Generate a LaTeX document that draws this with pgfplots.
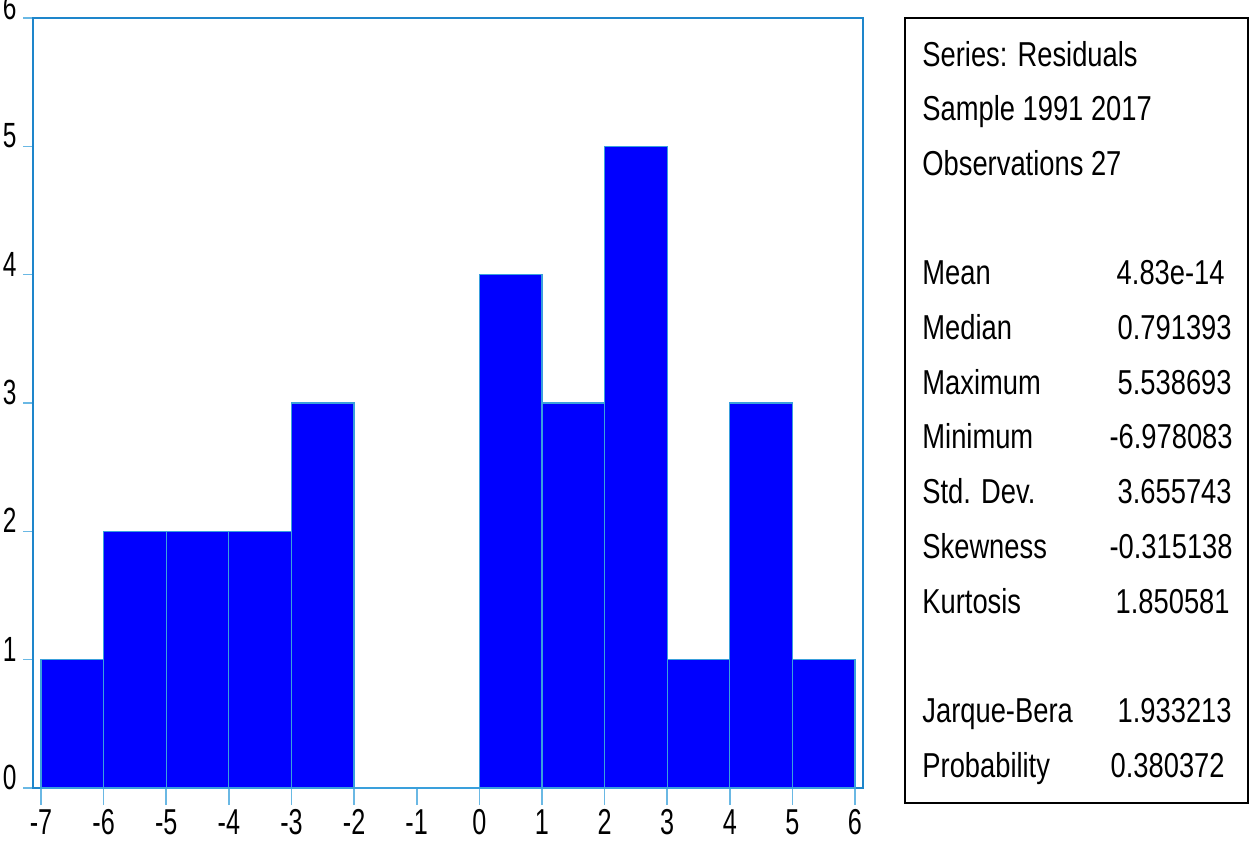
\documentclass[border=0pt]{standalone}
\usepackage{pgfplots}
\pgfplotsset{compat=1.18}
\usepackage{fontspec}
\setmainfont[FakeStretch=0.79]{Liberation Sans}
\newfontfamily\tickfont[FakeStretch=0.70]{Liberation Sans}
\definecolor{axblue}{HTML}{1E86CB}
\definecolor{tickblue}{HTML}{6AB8E4}
\definecolor{edgeblue}{HTML}{3AA0DC}
\definecolor{barblue}{HTML}{0000FF}
\begin{document}
\fontsize{17.3}{19}\selectfont
\begin{tikzpicture}[x=0.5pt,y=-0.5pt]
\useasboundingbox (0,0) rectangle (1251,846);
\begin{axis}[
  at={(16.5pt,-394pt)}, anchor=south west,
  scale only axis, width=415pt, height=385pt,
  xmin=-7.128, xmax=6.128, ymin=0, ymax=6,
  xtick={-7,-6,...,6}, ytick={0,1,...,6},
  axis line style={axblue, line width=0.7pt},
  tick align=outside,
  xtick pos=bottom, ytick pos=left,
  major tick length=5pt,
  tick style={tickblue, line width=0.8pt},
  xtick style={/pgfplots/major tick length=8.5pt},
  /pgf/number format/assume math mode=true,
  xticklabel style={font=\tickfont\fontsize{18}{20}\selectfont, inner sep=0pt, anchor=north, yshift=-5.5pt},
  yticklabel style={font=\tickfont\fontsize{17.5}{20}\selectfont, inner sep=0pt, anchor=south east, yshift=-1pt, xshift=-3pt},
]
\addplot[ybar interval, fill=barblue, draw=edgeblue, line width=0.6pt] coordinates {
(-7,1) (-6,2) (-5,2) (-4,2) (-3,3) (-2,0) (-1,0) (0,4) (1,3) (2,5) (3,1) (4,3) (5,1) (6,1)
};
\end{axis}
\draw[black, line width=0.7pt] (905,18) rectangle (1248,803);
\begin{scope}[every node/.style={inner sep=0pt}]
\node[anchor=base west] at (922,66) {Series: Residuals};
\node[anchor=base west] at (922,120.7) {Sample 1991 2017};
\node[anchor=base west] at (922,175.4) {Observations 27};
\node[anchor=base west] at (922,284.8) {Mean};
\node[anchor=base east] at (1225,284.8) {4.83e-14};
\node[anchor=base west] at (922,339.5) {Median};
\node[anchor=base east] at (1232,339.5) {0.791393};
\node[anchor=base west] at (922,394.2) {Maximum};
\node[anchor=base east] at (1232,394.2) {5.538693};
\node[anchor=base west] at (922,448.9) {Minimum};
\node[anchor=base east] at (1233,448.9) {-6.978083};
\node[anchor=base west] at (922,503.6) {Std. Dev.};
\node[anchor=base east] at (1232,503.6) {3.655743};
\node[anchor=base west] at (922,558.3) {Skewness};
\node[anchor=base east] at (1233,558.3) {-0.315138};
\node[anchor=base west] at (922,613) {Kurtosis};
\node[anchor=base east] at (1230,613) {1.850581};
\node[anchor=base west] at (922,722.4) {Jarque-Bera};
\node[anchor=base east] at (1232,722.4) {1.933213};
\node[anchor=base west] at (922,777.1) {Probability};
\node[anchor=base east] at (1225,777.1) {0.380372};
\end{scope}
\end{tikzpicture}
\end{document}
